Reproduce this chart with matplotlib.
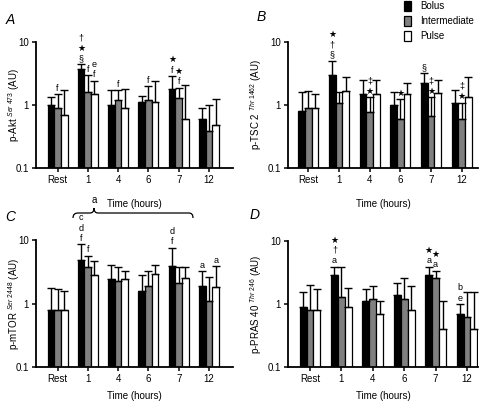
import numpy as np
import matplotlib
matplotlib.use("Agg")
import matplotlib.pyplot as plt
from matplotlib.path import Path
from matplotlib.patches import PathPatch, Patch

plt.rcParams['font.family'] = ['Liberation Sans', 'DejaVu Sans']
plt.rcParams['mathtext.fontset'] = 'custom'
plt.rcParams['mathtext.rm'] = 'Liberation Sans'
plt.rcParams['mathtext.it'] = 'Liberation Sans:italic'

times = ['Rest', '1', '4', '6', '7', '12']
groups = ['Bolus', 'Intermediate', 'Pulse']
colors = ['black', '#808080', 'white']

# bar heights and top of error bars (AU)
A_bolus = [1.0, 3.7, 1.0, 1.13, 1.8, 0.6]
A_bolus_top = [1.32, 4.4, 1.73, 1.4, 2.88, 0.9]
A_inter = [0.89, 1.63, 1.2, 1.2, 1.27, 0.39]
A_inter_top = [1.49, 3.0, 1.73, 2.0, 1.88, 1.0]
A_pulse = [0.69, 1.47, 0.89, 1.13, 0.6, 0.48]
A_pulse_top = [1.73, 2.43, 1.8, 2.4, 2.07, 1.23]

B_bolus = [0.8, 2.98, 1.47, 1.0, 2.26, 1.06]
B_bolus_top = [1.6, 5.0, 2.5, 1.63, 3.2, 1.73]
B_inter = [0.9, 1.06, 0.78, 0.6, 0.68, 0.6]
B_inter_top = [1.67, 1.63, 1.32, 1.23, 1.32, 1.09]
B_pulse = [0.9, 1.69, 1.47, 1.47, 1.57, 1.32]
B_pulse_top = [1.5, 2.8, 2.5, 2.2, 2.5, 2.8]

C_bolus = [0.8, 4.85, 2.4, 1.6, 3.95, 1.9]
C_bolus_top = [1.78, 8.5, 4.0, 2.8, 7.6, 3.2]
C_inter = [0.8, 3.8, 2.27, 1.9, 2.1, 1.1]
C_inter_top = [1.7, 5.7, 3.8, 3.2, 3.7, 2.6]
C_pulse = [0.8, 2.8, 2.4, 2.9, 2.56, 1.8]
C_pulse_top = [1.6, 4.7, 3.3, 4.1, 3.8, 3.9]

D_bolus = [0.9, 2.87, 1.1, 1.39, 2.87, 0.7]
D_bolus_top = [1.53, 3.9, 1.7, 2.12, 3.9, 1.0]
D_inter = [0.8, 1.3, 1.2, 1.2, 2.55, 0.62]
D_inter_top = [2.0, 3.9, 1.92, 2.6, 3.4, 1.53]
D_pulse = [0.8, 0.9, 0.7, 0.8, 0.4, 0.4]
D_pulse_top = [1.7, 1.8, 1.1, 1.92, 1.1, 1.53]

# significance marks: (time index, group index, symbols from bottom up)
A_marks = [(0, 1, 'f'), (1, 0, '§★†'), (1, 1, 'f'), (1, 2, 'fe'), (2, 1, 'f'),
           (3, 1, 'f'), (4, 0, 'f★'), (4, 1, 'f★')]
B_marks = [(1, 0, '§†★'), (2, 1, '★‡'), (3, 1, '★'), (4, 0, '§'), (4, 1, '★‡'), (5, 1, '★‡')]
C_marks = [(1, 0, 'fdc'), (1, 1, 'f'), (4, 0, 'fd'), (5, 0, 'a'), (5, 2, 'a')]
D_marks = [(1, 0, 'a†★'), (4, 0, 'a★'), (4, 1, 'a★'), (5, 0, 'eb')]

fig = plt.figure(figsize=(4.8, 4.01), dpi=100)
W, H = 480, 401


def add_ax(l, t, r, b):
    return fig.add_axes([l / W, 1 - b / H, (r - l) / W, (b - t) / H])


panels = [
    (add_ax(36, 42, 233, 168), 'A', (6, 20), 'p-Akt', 'Ser 473', 14,
     [A_bolus, A_inter, A_pulse], [A_bolus_top, A_inter_top, A_pulse_top], A_marks, (-0.71, 5.79), 10),
    (add_ax(288, 42, 478, 168), 'B', (257, 17), 'p-TSC 2', 'Thr 1462', 256,
     [B_bolus, B_inter, B_pulse], [B_bolus_top, B_inter_top, B_pulse_top], B_marks, (-0.66, 5.53), 10),
    (add_ax(36, 240, 233, 367), 'C', (5, 217), 'p-mTOR', 'Ser 2448', 14,
     [C_bolus, C_inter, C_pulse], [C_bolus_top, C_inter_top, C_pulse_top], C_marks, (-0.71, 5.79), 5),
    (add_ax(288, 241, 478, 367), 'D', (250, 215), 'p-PRAS 40', 'Thr 246', 256,
     [D_bolus, D_inter, D_pulse], [D_bolus_top, D_inter_top, D_pulse_top], D_marks, (-0.7, 5.35), 5),
]

x = np.arange(len(times))
w = 0.22
for ax, letter, lpos, prot, site, ylx, vals, tops, marks, xl, lpad in panels:
    for i in range(3):
        v = np.array(vals[i])
        e = np.array(tops[i]) - v
        ax.bar(x + (i - 1) * w, v, w, color=colors[i], edgecolor='black', linewidth=0.9,
               yerr=[np.zeros_like(e), e], capsize=3,
               error_kw=dict(elinewidth=1, capthick=1, ecolor='black'), zorder=2)
    for t, g, s in marks:
        ax.annotate('\n'.join(reversed(list(s))), (x[t] + (g - 1) * w, tops[g][t]),
                    xytext=(0, 1), textcoords='offset points', ha='center', va='bottom',
                    fontsize=6.5, linespacing=1.2)
    ax.set_yscale('log')
    ax.set_ylim(0.1, 10)
    ax.set_xlim(*xl)
    ax.set_yticks([0.1, 1, 10])
    ax.set_yticklabels(['0.1', '1', '10'])
    ax.yaxis.set_minor_locator(matplotlib.ticker.NullLocator())
    ax.set_xticks(x)
    ax.set_xticklabels(times)
    ax.tick_params(labelsize=7, width=1.1, length=3, pad=2)
    ax.spines['top'].set_visible(False)
    ax.spines['right'].set_visible(False)
    ax.spines['left'].set_linewidth(1.3)
    ax.spines['bottom'].set_linewidth(1.3)
    ax.set_xlabel('Time (hours)', fontsize=7, labelpad=lpad)
    pos = ax.get_position()
    fig.text(ylx / W, (pos.y0 + pos.y1) / 2,
             prot + r' $^{\mathit{' + site.replace(' ', r'\ ') + r'}}$ (AU)',
             rotation=90, ha='center', va='center', fontsize=7)
    fig.text(lpos[0] / W, 1 - lpos[1] / H, letter, fontsize=10, style='italic',
             ha='left', va='center')

# legend
handles = [Patch(facecolor=c, edgecolor='black', linewidth=0.9) for c in colors]
fig.legend(handles, groups, loc='upper left', bbox_to_anchor=(395 / W, 1.02), frameon=False,
           fontsize=7, handlelength=0.7, handleheight=1.2, labelspacing=0.5, handletextpad=1.0)

# brace under panel A
pts = [(73, 218), (73, 213), (78, 213), (90, 213), (94, 213), (94, 208),
       (94, 213), (98, 213), (189, 213), (193, 213), (193, 218)]
codes = [Path.MOVETO, Path.CURVE3, Path.CURVE3, Path.LINETO, Path.CURVE3, Path.CURVE3,
         Path.CURVE3, Path.CURVE3, Path.LINETO, Path.CURVE3, Path.CURVE3]
brace = Path([(px / W, 1 - py / H) for px, py in pts], codes)
fig.patches.append(PathPatch(brace, transform=fig.transFigure, fill=False, lw=0.9, edgecolor='black'))
fig.text(94 / W, 1 - 200 / H, 'a', fontsize=7, ha='center', va='center')

fig.savefig('out.png', dpi=100)
